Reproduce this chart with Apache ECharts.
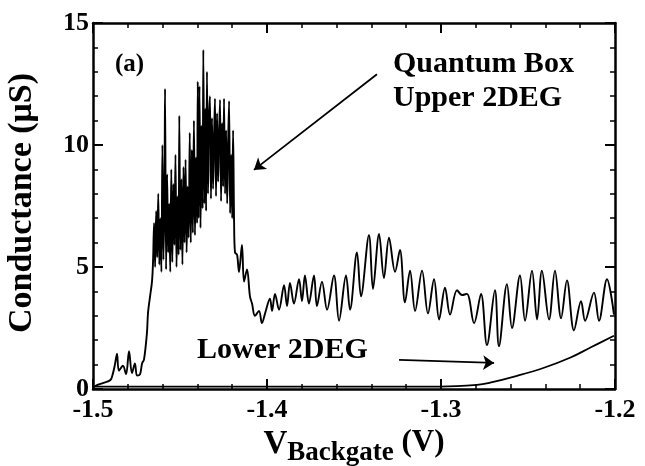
<!DOCTYPE html>
<html>
<head>
<meta charset="utf-8">
<script src="https://cdn.jsdelivr.net/npm/echarts@6/dist/echarts.min.js"></script>
<style>
  html, body { margin: 0; padding: 0; background: #ffffff; }
  #chart { width: 645px; height: 466px; }
</style>
</head>
<body>
<div id="chart"></div>
<script>
// Axis ticks
const xTicks = [-1.5, -1.4, -1.3, -1.2];
const yTicks = [0, 5, 10, 15];

// Quantum box / upper 2DEG conductance trace: [V_backgate (V), G (uS)]
const boxTrace = [
  [-1.5000,0.05],[-1.4980,0.15],[-1.4940,0.25],[-1.4900,0.37],[-1.4885,0.65],[-1.4874,1.00],
  [-1.4862,1.45],[-1.4851,0.75],[-1.4828,0.95],[-1.4810,0.60],[-1.4793,1.55],[-1.4776,0.65],
  [-1.4759,1.05],[-1.4747,0.55],[-1.4730,0.60],[-1.4718,1.05],[-1.4707,1.20],[-1.4690,2.30],
  [-1.4684,3.10],[-1.4672,3.80],[-1.4661,4.40],
  [-1.4655,5.2],[-1.4649,6.8],[-1.4643,5.0],[-1.4637,7.3],[-1.4631,5.4],[-1.4625,8.0],
  [-1.4619,5.1],[-1.4613,7.0],[-1.4607,4.8],[-1.4601,10.0],[-1.4595,5.3],[-1.4589,8.2],
  [-1.4586,12.3],[-1.4580,4.9],[-1.4574,8.8],[-1.4568,5.6],[-1.4562,7.6],[-1.4556,4.8],
  [-1.4550,9.0],[-1.4544,5.2],[-1.4538,8.4],[-1.4532,5.9],[-1.4526,9.6],[-1.4520,5.0],
  [-1.4514,7.9],[-1.4508,5.5],[-1.4504,11.2],[-1.4498,5.7],[-1.4492,8.6],[-1.4486,5.1],
  [-1.4480,9.1],[-1.4474,6.0],[-1.4468,9.4],[-1.4462,5.6],[-1.4456,8.3],[-1.4450,6.2],
  [-1.4444,10.5],[-1.4438,6.0],[-1.4432,9.8],[-1.4426,6.4],[-1.4420,11.0],[-1.4414,6.3],
  [-1.4408,9.5],[-1.4402,6.8],[-1.4398,12.6],[-1.4393,7.0],[-1.4388,12.4],[-1.4382,6.6],
  [-1.4376,10.8],[-1.4370,7.4],[-1.4366,13.9],[-1.4360,7.6],[-1.4355,11.5],[-1.4350,7.3],
  [-1.4345,13.0],[-1.4339,8.0],[-1.4334,10.9],[-1.4328,12.0],[-1.4322,7.8],[-1.4316,11.1],
  [-1.4310,8.2],[-1.4304,10.4],[-1.4299,11.9],[-1.4293,7.9],[-1.4287,11.3],[-1.4281,8.5],
  [-1.4276,10.2],[-1.4270,11.85],[-1.4264,7.7],[-1.4258,10.9],[-1.4252,8.3],[-1.4247,11.9],
  [-1.4241,8.0],[-1.4235,10.6],[-1.4229,7.6],[-1.4224,9.8],[-1.4218,11.8],[-1.4212,7.2],
  [-1.4206,9.6],[-1.4200,7.0],[-1.4195,10.6],[-1.4189,6.8],[-1.4184,5.6],
  [-1.4172,5.5],[-1.4161,4.8],[-1.4144,5.9],[-1.4132,4.4],[-1.4115,4.9],[-1.4098,3.8],
  [-1.4086,3.5],[-1.4069,3.0],[-1.4046,3.2],[-1.4029,2.7],[-1.4011,3.1],[-1.3983,3.7],
  [-1.3971,3.2],[-1.3954,3.9],[-1.3931,3.25],[-1.3902,4.25],[-1.3885,3.4],[-1.3868,4.35],
  [-1.3845,3.5],[-1.3816,4.5],[-1.3799,3.6],[-1.3782,4.65],[-1.3759,3.5],[-1.3730,4.65],
  [-1.3713,3.4],[-1.3684,4.4],[-1.3655,3.25],[-1.3615,4.65],[-1.3586,2.8],[-1.3546,4.65],
  [-1.3523,3.25],[-1.3483,5.6],[-1.3460,3.8],[-1.3414,6.3],[-1.3391,4.1],[-1.3356,6.35],
  [-1.3328,4.55],[-1.3299,6.2],[-1.3264,4.8],[-1.3236,5.7],[-1.3207,3.55],[-1.3178,4.85],
  [-1.3149,3.2],[-1.3109,4.85],[-1.3075,3.1],[-1.3040,4.5],[-1.3011,2.85],[-1.2977,4.15],
  [-1.2948,3.05],[-1.2908,4.05],[-1.2879,3.85],[-1.2851,3.9],[-1.2810,2.7],[-1.2770,3.9],
  [-1.2736,1.8],[-1.2690,4.05],[-1.2667,1.75],[-1.2621,4.3],[-1.2592,2.5],[-1.2546,4.65],
  [-1.2517,2.8],[-1.2477,4.85],[-1.2448,2.85],[-1.2420,4.85],[-1.2379,2.85],[-1.2345,4.85],
  [-1.2310,2.9],[-1.2276,4.45],[-1.2236,2.4],[-1.2195,3.6],[-1.2172,2.8],[-1.2121,3.95],
  [-1.2092,2.8],[-1.2046,4.5],[-1.2006,3.05]
];

// Lower 2DEG conductance trace: [V_backgate (V), G (uS)]
const lowerTrace = [
  [-1.500,0.10],[-1.450,0.10],[-1.400,0.10],[-1.350,0.10],[-1.3006,0.10],[-1.2793,0.17],
  [-1.2718,0.26],[-1.2563,0.54],[-1.2408,0.87],[-1.2259,1.28],[-1.2144,1.69],[-1.2006,2.18]
];

// Annotation arrows, in data coordinates: [from, to]
const boxArrow = [[-1.3368, 12.9], [-1.4075, 8.98]];
const lowerArrow = [[-1.3241, 1.19], [-1.2695, 1.07]];

const serif = '"Liberation Serif", "Times New Roman", serif';
const ink = '#000000';

// Every side of the frame carries inward major and minor ticks
function frameAxis(extra) {
  return Object.assign({
    type: 'value',
    axisLine: { show: true, onZero: false, lineStyle: { color: ink, width: 2.5 } },
    axisTick: { show: true, inside: true, length: 10, lineStyle: { color: ink, width: 2 } },
    minorTick: { show: true, splitNumber: 5, length: 5, lineStyle: { color: ink, width: 1.5 } },
    splitLine: { show: false },
    minorSplitLine: { show: false }
  }, extra);
}

const chart = echarts.init(document.getElementById('chart'), null, { renderer: 'canvas' });

chart.setOption({
  animation: false,
  backgroundColor: '#ffffff',
  grid: { left: 93, right: 30, top: 23, bottom: 77, outerBoundsMode: 'none' },
  xAxis: [
    frameAxis({
      position: 'bottom',
      min: xTicks[0], max: xTicks[xTicks.length - 1], interval: 0.1,
      axisLabel: {
        show: true, color: ink, fontFamily: serif, fontWeight: 'bold', fontSize: 26, margin: 8,
        formatter: v => v.toFixed(1)
      },
      name: '{v|V}{sub|Backgate}{p| (V)}',
      nameLocation: 'middle', nameGap: 36,
      nameTextStyle: {
        color: ink, fontFamily: serif,
        rich: {
          v: { fontSize: 33, fontWeight: 'bold', fontFamily: serif, color: ink, verticalAlign: 'top', lineHeight: 34 },
          sub: { fontSize: 27, fontWeight: 'bold', fontFamily: serif, color: ink, verticalAlign: 'bottom', lineHeight: 39 },
          p: { fontSize: 31, fontWeight: 'bold', fontFamily: serif, color: ink, verticalAlign: 'top', lineHeight: 34 }
        }
      }
    }),
    frameAxis({
      position: 'top',
      min: xTicks[0], max: xTicks[xTicks.length - 1], interval: 0.1,
      axisLabel: { show: false }
    })
  ],
  yAxis: [
    frameAxis({
      position: 'left',
      min: yTicks[0], max: yTicks[yTicks.length - 1], interval: 5,
      axisLabel: { show: true, color: ink, fontFamily: serif, fontWeight: 'bold', fontSize: 26, margin: 4 },
      name: 'Conductance (μS)',
      nameLocation: 'middle', nameGap: 54, nameRotate: 90,
      nameTextStyle: { color: ink, fontFamily: serif, fontWeight: 'bold', fontSize: 34, padding: [0, 0, 0, 6] }
    }),
    frameAxis({
      position: 'right',
      min: yTicks[0], max: yTicks[yTicks.length - 1], interval: 5,
      axisLabel: { show: false }
    })
  ],
  series: [
    {
      name: 'Quantum Box / Upper 2DEG',
      type: 'line',
      data: boxTrace,
      showSymbol: false,
      smooth: 0.35,
      lineStyle: { color: ink, width: 1.9 },
      markLine: {
        silent: true,
        symbol: ['none', 'arrow'],
        symbolSize: 11,
        label: { show: false },
        lineStyle: { color: ink, width: 1.8, type: 'solid' },
        data: [[
          { coord: boxArrow[0] }, { coord: boxArrow[1] }
        ], [
          { coord: lowerArrow[0] }, { coord: lowerArrow[1] }
        ]]
      }
    },
    {
      name: 'Lower 2DEG',
      type: 'line',
      data: lowerTrace,
      showSymbol: false,
      smooth: 0.4,
      lineStyle: { color: ink, width: 1.8 }
    }
  ],
  graphic: [
    {
      type: 'text', left: 115, top: 52,
      style: { text: '(a)', fill: ink, font: 'bold 25px ' + serif }
    },
    {
      type: 'text', left: 393, top: 47,
      style: { text: 'Quantum Box\nUpper 2DEG', fill: ink, font: 'bold 30px ' + serif, lineHeight: 34 }
    },
    {
      type: 'text', left: 197, top: 335,
      style: { text: 'Lower 2DEG', fill: ink, font: 'bold 30px ' + serif }
    }
  ]
});
</script>
</body>
</html>
